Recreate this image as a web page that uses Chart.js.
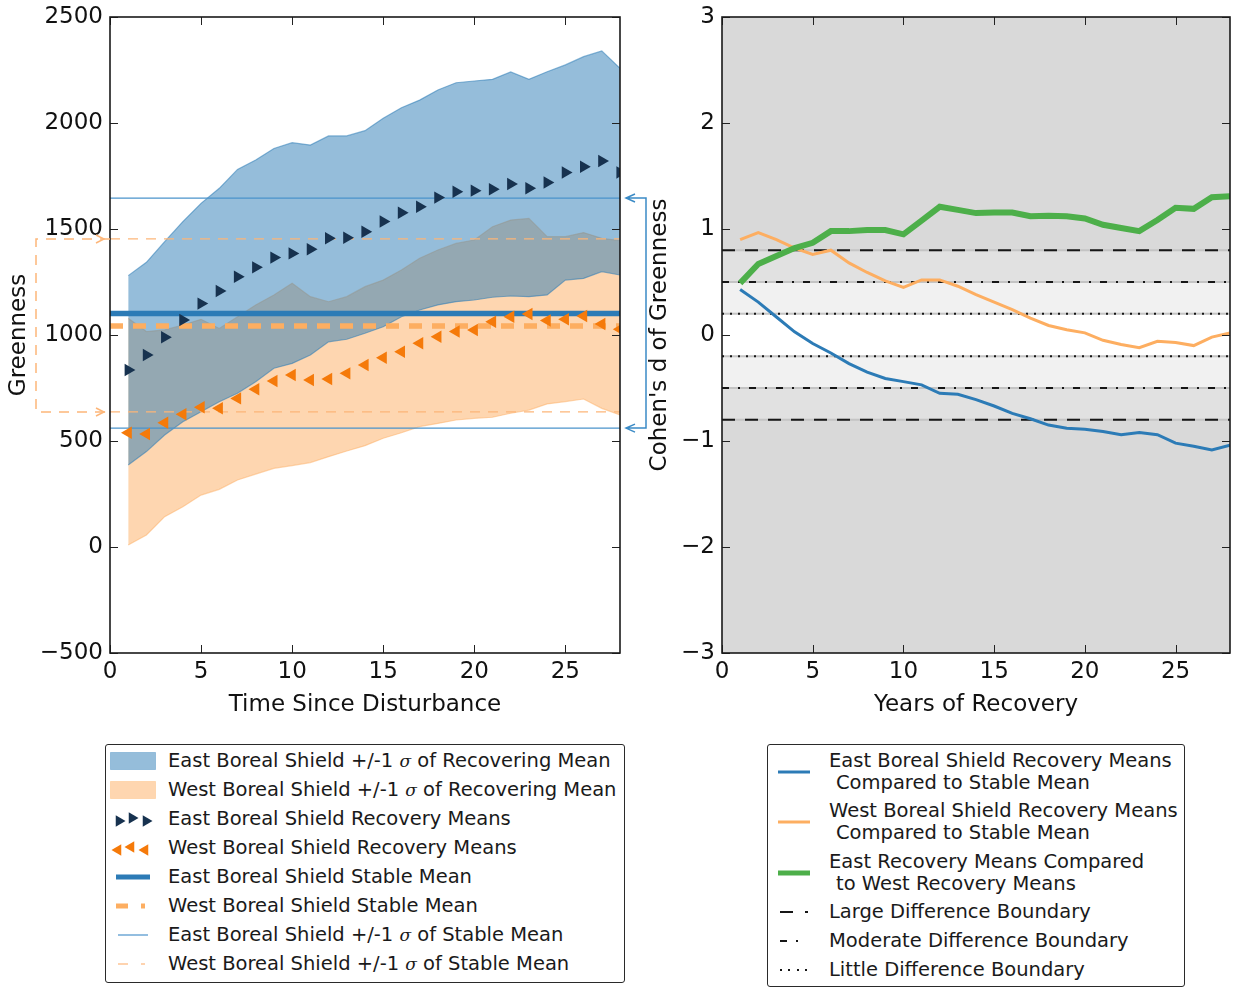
<!DOCTYPE html>
<html><head><meta charset="utf-8">
<script src="https://cdn.jsdelivr.net/npm/chart.js@4/dist/chart.umd.min.js"></script>
<style>
body{margin:0;background:#fff;width:1233px;height:987px;position:relative;overflow:hidden;font-family:"DejaVu Sans",sans-serif;color:#111;}
canvas{position:absolute;top:0;}
#c1{left:0;}
#c2{left:640px;}
.leg{position:absolute;border:1.5px solid #2a2a2a;border-radius:3px;background:#fff;box-sizing:border-box;}
.lt{position:absolute;font-size:19.5px;line-height:22px;white-space:pre;color:#1a1a1a;}
.lt i{font-family:"DejaVu Serif",serif;font-size:17px;}
#hs{position:absolute;left:0;top:0;pointer-events:none;}
</style></head>
<body>
<canvas id="c1" width="660" height="730"></canvas>
<canvas id="c2" width="593" height="730"></canvas>
<div class="leg" style="left:105px;top:744px;width:520px;height:239px;"></div>
<div class="leg" style="left:767px;top:744px;width:418px;height:243px;"></div>
<div id="texts"></div>
<svg id="hs" width="1233" height="987"></svg>
<script>
// ---------------- data ----------------
const years = [1,2,3,4,5,6,7,8,9,10,11,12,13,14,15,16,17,18,19,20,21,22,23,24,25,26,27,28];
const xTicks = [0,5,10,15,20,25];
const greennessTicks = [-500,0,500,1000,1500,2000,2500];
const cohenTicks = [-3,-2,-1,0,1,2,3];

const eastUpper = [1280,1343,1440,1535,1621,1692,1781,1825,1880,1907,1896,1939,1939,1964,2022,2072,2108,2156,2190,2198,2206,2241,2206,2242,2274,2313,2340,2258];
const eastLower = [387,450,528,591,638,685,725,780,843,866,906,968,980,1008,1039,1086,1118,1142,1157,1165,1178,1184,1181,1189,1259,1267,1299,1283];
const westUpper = [1079,1016,1024,1047,1074,1031,1086,1142,1189,1244,1181,1157,1181,1228,1259,1307,1362,1401,1432,1448,1511,1542,1550,1464,1464,1483,1456,1445];
const westLower = [9,57,143,190,245,272,316,344,371,384,398,426,453,478,513,539,568,583,599,607,612,631,646,675,686,698,654,623];
const eastMeans = [835,906,989,1071,1148,1208,1275,1319,1365,1385,1404,1456,1459,1487,1535,1577,1605,1648,1676,1681,1687,1712,1692,1719,1767,1794,1821,1767];
const westMeans = [539,533,586,626,659,654,701,744,783,811,788,792,819,858,893,921,961,992,1016,1024,1063,1086,1099,1068,1074,1090,1052,1027];

const eastStableMean = 1102, eastStableUpper = 1646, eastStableLower = 561;
const westStableMean = 1042, westStableUpper = 1453, westStableLower = 637;

const eastVsStable = [0.43,0.31,0.17,0.03,-0.08,-0.17,-0.27,-0.35,-0.41,-0.44,-0.47,-0.55,-0.56,-0.61,-0.67,-0.74,-0.79,-0.85,-0.88,-0.89,-0.91,-0.94,-0.92,-0.94,-1.02,-1.05,-1.085,-1.04];
const westVsStable = [0.90,0.965,0.90,0.82,0.76,0.80,0.68,0.59,0.51,0.45,0.52,0.52,0.46,0.38,0.31,0.24,0.16,0.09,0.05,0.02,-0.05,-0.09,-0.12,-0.06,-0.07,-0.10,-0.02,0.02];
const eastVsWest = [0.49,0.67,0.745,0.82,0.87,0.98,0.98,0.99,0.99,0.95,1.08,1.21,1.18,1.15,1.155,1.155,1.12,1.125,1.12,1.10,1.04,1.01,0.98,1.085,1.20,1.19,1.30,1.31];

const largeBoundary = 0.8, moderateBoundary = 0.5, littleBoundary = 0.2;
const xRange = [0, 28];

const leftLegendLabels = [
  ['East Boreal Shield +/-1 ', 'σ', ' of Recovering Mean'],
  ['West Boreal Shield +/-1 ', 'σ', ' of Recovering Mean'],
  ['East Boreal Shield Recovery Means'],
  ['West Boreal Shield Recovery Means'],
  ['East Boreal Shield Stable Mean'],
  ['West Boreal Shield Stable Mean'],
  ['East Boreal Shield +/-1 ', 'σ', ' of Stable Mean'],
  ['West Boreal Shield +/-1 ', 'σ', ' of Stable Mean']
];
const rightLegendLabels = [
  ['East Boreal Shield Recovery Means', 'Compared to Stable Mean'],
  ['West Boreal Shield Recovery Means', 'Compared to Stable Mean'],
  ['East Recovery Means Compared', 'to West Recovery Means'],
  ['Large Difference Boundary'],
  ['Moderate Difference Boundary'],
  ['Little Difference Boundary']
];

// ---------------- helpers ----------------
const BLUE = '#2c7bb6', ORANGE = '#fdae61', GREEN = '#4daf4a';
const pts = arr => arr.map((v, i) => ({x: years[i], y: v}));
const hline = v => [{x: xRange[0], y: v}, {x: xRange[1], y: v}];
const fmt = v => (v < 0 ? '\u2212' + Math.abs(v) : String(v));

Chart.defaults.font.family = '"DejaVu Sans", sans-serif';
Chart.defaults.color = '#111';

const frameTicks = {
  id: 'frameTicks',
  afterDatasetsDraw(chart) {
    const {ctx, chartArea: a, scales: {x, y}} = chart;
    ctx.save();
    ctx.strokeStyle = '#222';
    ctx.lineWidth = 1;
    const L = 8;
    ctx.beginPath();
    x.ticks.forEach(t => {
      const px = Math.round(x.getPixelForValue(t.value)) + 0.5;
      ctx.moveTo(px, a.bottom); ctx.lineTo(px, a.bottom - L);
      ctx.moveTo(px, a.top); ctx.lineTo(px, a.top + L);
    });
    y.ticks.forEach(t => {
      const py = Math.round(y.getPixelForValue(t.value)) + 0.5;
      ctx.moveTo(a.left, py); ctx.lineTo(a.left + L, py);
      ctx.moveTo(a.right, py); ctx.lineTo(a.right - L, py);
    });
    ctx.stroke();
    ctx.lineWidth = 1.6;
    ctx.strokeStyle = '#1a1a1a';
    ctx.strokeRect(a.left, a.top, a.width, a.height);
    ctx.restore();
  }
};

const brackets = {
  id: 'brackets',
  afterDraw(chart) {
    const {ctx, chartArea: a, scales: {y}} = chart;
    ctx.save();
    const wu = y.getPixelForValue(westStableUpper), wl = y.getPixelForValue(westStableLower);
    ctx.strokeStyle = '#fdb679';
    ctx.lineWidth = 1.5;
    ctx.setLineDash([10, 8]);
    ctx.beginPath();
    ctx.moveTo(a.left, wu); ctx.lineTo(36, wu); ctx.lineTo(36, wl); ctx.lineTo(a.left, wl);
    ctx.stroke();
    ctx.setLineDash([]);
    ctx.beginPath();
    [wu, wl].forEach(py => { ctx.moveTo(a.left - 14, py - 4); ctx.lineTo(a.left - 6, py); ctx.lineTo(a.left - 14, py + 4); });
    ctx.stroke();
    const eu = y.getPixelForValue(eastStableUpper), el = y.getPixelForValue(eastStableLower);
    ctx.strokeStyle = '#3b8bc6';
    ctx.beginPath();
    ctx.moveTo(a.right + 6, eu); ctx.lineTo(a.right + 26, eu); ctx.lineTo(a.right + 26, el); ctx.lineTo(a.right + 6, el);
    [eu, el].forEach(py => { ctx.moveTo(a.right + 15, py - 4); ctx.lineTo(a.right + 6, py); ctx.lineTo(a.right + 15, py + 4); });
    ctx.stroke();
    ctx.restore();
  }
};

const cohenBg = {
  id: 'cohenBg',
  beforeDatasetsDraw(chart) {
    const {ctx, chartArea: a, scales: {y}} = chart;
    ctx.save();
    ctx.fillStyle = '#d9d9d9';
    ctx.fillRect(a.left, a.top, a.width, a.height);
    const band = (v, c) => {
      const t = y.getPixelForValue(v), b = y.getPixelForValue(-v);
      ctx.fillStyle = c; ctx.fillRect(a.left, t, a.width, b - t);
    };
    band(largeBoundary, '#e1e1e1');
    band(moderateBoundary, '#f1f1f1');
    band(littleBoundary, '#ffffff');
    ctx.strokeStyle = '#c4c4c4';
    ctx.lineWidth = 2;
    ctx.beginPath();
    [largeBoundary, moderateBoundary, littleBoundary].forEach(v => [v, -v].forEach(w => {
      const py = y.getPixelForValue(w); ctx.moveTo(a.left, py); ctx.lineTo(a.right, py);
    }));
    ctx.stroke();
    ctx.restore();
  }
};

const tickFont = {size: 23};
const titleFont = {size: 23};

function xScale(title) {
  return {
    type: 'linear', min: xRange[0], max: xRange[1],
    grid: {display: false, drawTicks: false}, border: {display: false},
    afterBuildTicks: s => { s.ticks = xTicks.map(v => ({value: v})); },
    afterFit: s => { s.height = 77; s.paddingLeft = 0; s.paddingRight = 0; },
    ticks: {font: tickFont, padding: 5, maxRotation: 0, callback: v => fmt(v)},
    title: {display: true, text: title, font: titleFont, color: '#111', padding: {top: 0, bottom: 11}}
  };
}
function yScale(title, min, max, ticksArr, width, tpad) {
  return {
    type: 'linear', min, max,
    grid: {display: false, drawTicks: false}, border: {display: false},
    afterBuildTicks: s => { s.ticks = ticksArr.map(v => ({value: v})); },
    afterFit: s => { s.width = width; s.paddingTop = 0; s.paddingBottom = 0; },
    ticks: {font: tickFont, padding: 7, callback: v => fmt(v)},
    title: {display: true, text: title, font: titleFont, color: '#111', padding: {top: tpad, bottom: 0}}
  };
}

const common = {
  responsive: false, animation: false, devicePixelRatio: 1,
  plugins: {legend: {display: false}, tooltip: {enabled: false}},
  elements: {point: {radius: 0}, line: {tension: 0}}
};

// ---------------- left chart ----------------
new Chart(document.getElementById('c1'), {
  type: 'line',
  data: {datasets: [
    {data: pts(eastMeans), showLine: false, pointStyle: 'triangle', pointRotation: 90, pointRadius: 7.2, pointBackgroundColor: '#17324f', pointBorderColor: '#17324f', pointBorderWidth: 0, order: 0},
    {data: pts(westMeans), showLine: false, pointStyle: 'triangle', pointRotation: -90, pointRadius: 7.2, pointBackgroundColor: '#f57a0a', pointBorderColor: '#f57a0a', pointBorderWidth: 0, order: 1},
    {data: hline(eastStableMean), borderColor: BLUE, borderWidth: 5.5, order: 2},
    {data: hline(westStableMean), borderColor: ORANGE, borderWidth: 5.5, borderDash: [13, 10], order: 3},
    {data: hline(eastStableUpper), borderColor: '#4a93cb', borderWidth: 1.2, order: 4},
    {data: hline(eastStableLower), borderColor: '#4a93cb', borderWidth: 1.2, order: 5},
    {data: hline(westStableUpper), borderColor: '#fdb679', borderWidth: 1.2, borderDash: [10, 8], order: 6},
    {data: hline(westStableLower), borderColor: '#fdb679', borderWidth: 1.2, borderDash: [10, 8], order: 7},
    {data: pts(eastUpper), borderColor: 'rgba(44,123,182,0.55)', borderWidth: 1.2, backgroundColor: 'rgba(44,123,182,0.5)', fill: 9, order: 8},
    {data: pts(eastLower), borderColor: 'rgba(44,123,182,0.55)', borderWidth: 1.2, fill: false, order: 9},
    {data: pts(westUpper), borderColor: 'rgba(253,174,97,0.5)', borderWidth: 1.2, backgroundColor: 'rgba(253,174,97,0.5)', fill: 11, order: 10},
    {data: pts(westLower), borderColor: 'rgba(253,174,97,0.5)', borderWidth: 1.2, fill: false, order: 11}
  ]},
  options: Object.assign({}, common, {
    layout: {padding: {top: 17, right: 40, bottom: 0, left: 0}},
    scales: {
      x: xScale('Time Since Disturbance'),
      y: yScale('Greenness', -500, 2500, greennessTicks, 110, 5)
    }
  }),
  plugins: [frameTicks, brackets]
});

// ---------------- right chart ----------------
const bline = (v, dash) => ({data: hline(v), borderColor: '#161616', borderWidth: 2, borderDash: dash, order: 5});
new Chart(document.getElementById('c2'), {
  type: 'line',
  data: {datasets: [
    {data: pts(eastVsWest), borderColor: GREEN, borderWidth: 6, order: 0},
    {data: pts(westVsStable), borderColor: ORANGE, borderWidth: 3, order: 1},
    {data: pts(eastVsStable), borderColor: BLUE, borderWidth: 3, order: 2},
    bline(largeBoundary, [13, 10]), bline(-largeBoundary, [13, 10]),
    bline(moderateBoundary, [7, 9, 2, 9]), bline(-moderateBoundary, [7, 9, 2, 9]),
    bline(littleBoundary, [2, 6]), bline(-littleBoundary, [2, 6])
  ]},
  options: Object.assign({}, common, {
    layout: {padding: {top: 17, right: 3, bottom: 0, left: 0}},
    scales: {
      x: xScale('Years of Recovery'),
      y: yScale("Cohen's d of Greenness", -3, 3, cohenTicks, 82, 6)
    }
  }),
  plugins: [cohenBg, frameTicks]
});

// ---------------- legends ----------------
const texts = document.getElementById('texts');
function addText(x, cy, parts) {
  const d = document.createElement('div');
  d.className = 'lt';
  d.style.left = x + 'px';
  d.style.top = (cy - 11) + 'px';
  parts.forEach(p => {
    if (p === 'σ') { const i = document.createElement('i'); i.textContent = p; d.appendChild(i); }
    else d.appendChild(document.createTextNode(p));
  });
  texts.appendChild(d);
}
leftLegendLabels.forEach((parts, k) => addText(168, 761 + 29 * k, parts));
const rightRows = [[761, 783], [811, 833], [862, 884], [912], [941], [970]];
rightLegendLabels.forEach((lines, k) => lines.forEach((ln, j) => addText(j === 0 ? 829 : 836, rightRows[k][j], [ln])));

const svg = document.getElementById('hs');
const NS = 'http://www.w3.org/2000/svg';
function el(tag, attrs) { const e = document.createElementNS(NS, tag); for (const k in attrs) e.setAttribute(k, attrs[k]); svg.appendChild(e); return e; }
function tri(cx, cy, dir, color) {
  const r = 6.5, h = r / 2, s = r * 0.866;
  const p = dir > 0 ? `${cx + r},${cy} ${cx - h},${cy - s} ${cx - h},${cy + s}` : `${cx - r},${cy} ${cx + h},${cy - s} ${cx + h},${cy + s}`;
  el('polygon', {points: p, fill: color});
}
function seg(x1, x2, y, color, w) { el('line', {x1, x2, y1: y, y2: y, stroke: color, 'stroke-width': w}); }
// left legend handles
el('rect', {x: 110.5, y: 752.5, width: 45, height: 17, fill: 'rgba(44,123,182,0.5)', stroke: 'rgba(44,123,182,0.35)'});
el('rect', {x: 110.5, y: 781.5, width: 45, height: 17, fill: 'rgba(253,174,97,0.5)', stroke: 'rgba(253,174,97,0.35)'});
[[119, 2], [132, -1], [146, 2]].forEach(([x, o]) => tri(x, 819 + o, 1, '#17324f'));
[[118, 2], [131, -1], [145, 2]].forEach(([x, o]) => tri(x, 848 + o, -1, '#f57a0a'));
seg(116, 150, 877, BLUE, 5);
seg(116, 128, 906, ORANGE, 5); seg(141, 145, 906, ORANGE, 5);
seg(118, 148, 935, '#4a93cb', 1.2);
seg(118, 128, 964, '#fdb679', 1.2); seg(141, 145, 964, '#fdb679', 1.2);
// right legend handles
seg(778, 810, 772, BLUE, 3);
seg(778, 810, 822, ORANGE, 3);
seg(778, 810, 873, GREEN, 5);
seg(780, 793, 912, '#161616', 2); seg(805, 808, 912, '#161616', 2);
seg(780, 787, 941, '#161616', 2); seg(796, 798, 941, '#161616', 2);
[780, 788, 797, 805].forEach(x => seg(x, x + 2, 970, '#161616', 2));
</script>
</body></html>
